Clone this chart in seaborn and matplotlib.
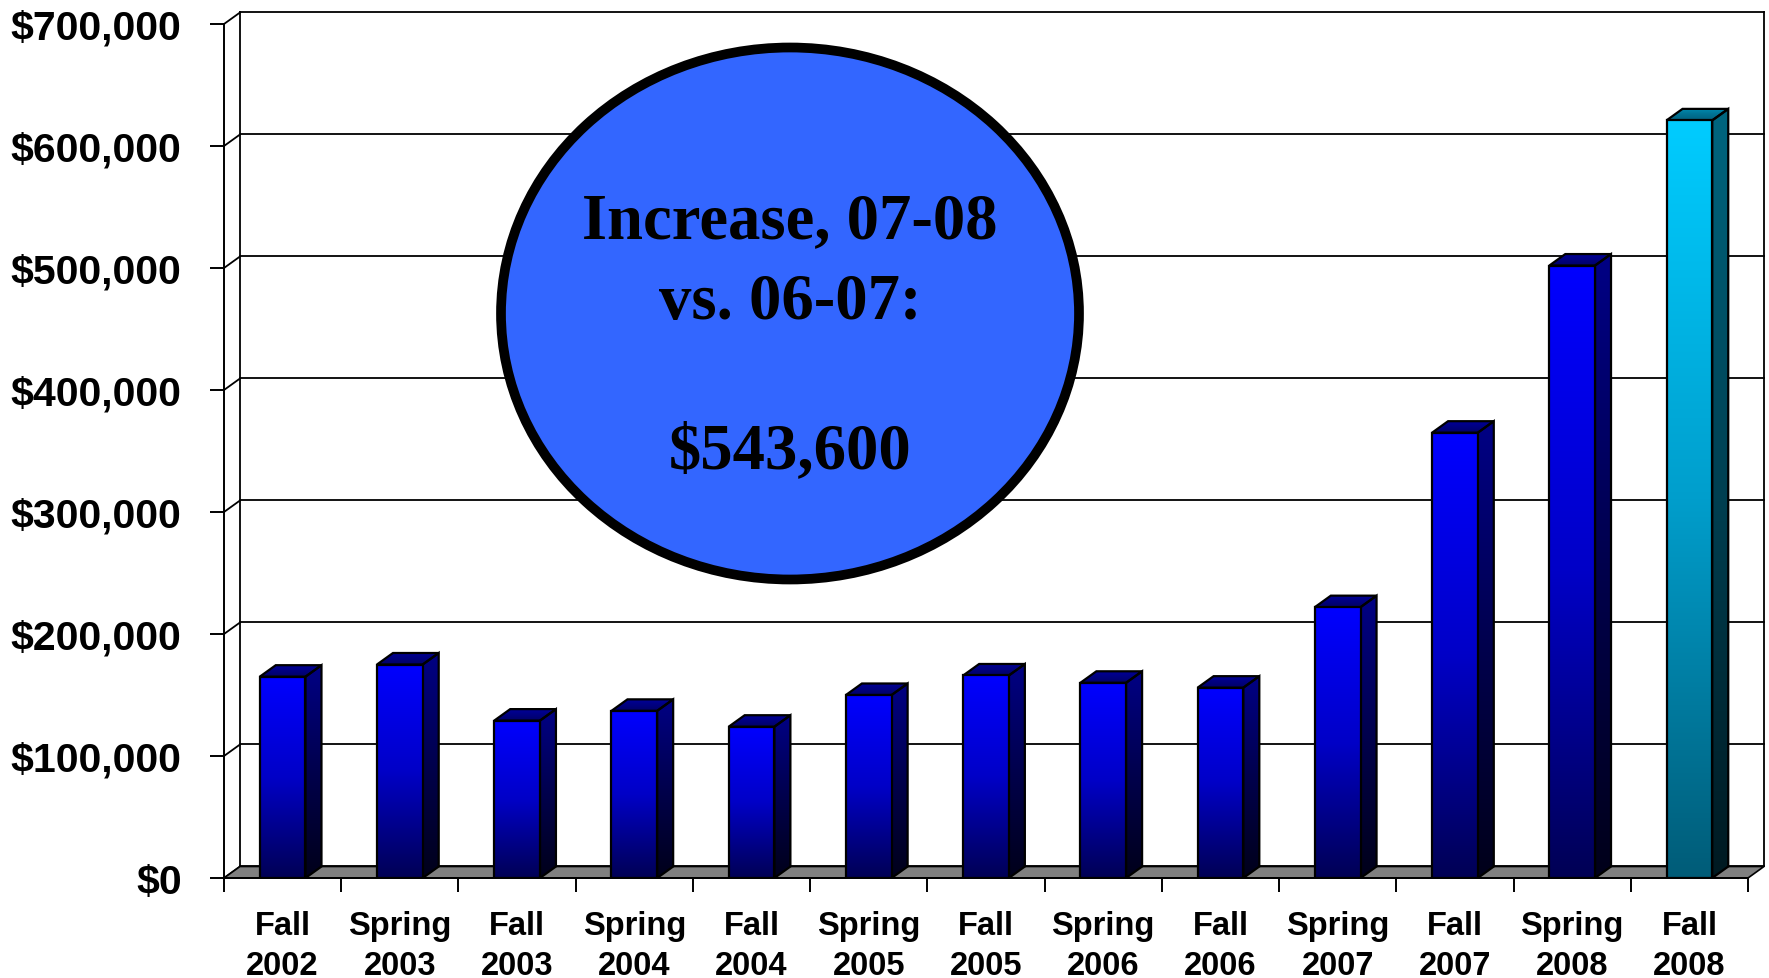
import numpy as np
import pandas as pd
import matplotlib
matplotlib.use("Agg")
import matplotlib.pyplot as plt
import seaborn as sns
from matplotlib.patches import Polygon, Ellipse
from matplotlib.ticker import FuncFormatter, MultipleLocator

# Data
terms = ["Fall", "Spring", "Fall", "Spring", "Fall", "Spring", "Fall",
         "Spring", "Fall", "Spring", "Fall", "Spring", "Fall"]
years = [2002, 2003, 2003, 2004, 2004, 2005, 2005,
         2006, 2006, 2007, 2007, 2008, 2008]
amounts = [165000, 175000, 129000, 137000, 124000, 150000, 166000,
           160000, 156000, 222000, 365000, 502000, 621000]
highlight = [False] * 12 + [True]

callout_lines = ["Increase, 07-08", "vs. 06-07:", "$543,600"]

# Style
DX, DY = 0.1365, 9430  # fake 3D depth in data units
BLUE = {
    "front": [(0.0, 0.0, 1.0), (0.0, 0.0, 0.78), (0.0, 0.0, 0.33)],
    "side": [(0.0, 0.0, 0.52), (0.0, 0.0, 0.30), (0.0, 0.0, 0.10)],
    "top": [(0.0, 0.0, 0.60), (0.0, 0.0, 0.50), (0.0, 0.0, 0.40)],
}
CYAN = {
    "front": [(0.0, 0.80, 1.0), (0.0, 0.62, 0.80), (0.0, 0.36, 0.47)],
    "side": [(0.0, 0.40, 0.50), (0.0, 0.25, 0.32), (0.0, 0.10, 0.13)],
    "top": [(0.0, 0.55, 0.70), (0.0, 0.45, 0.58), (0.0, 0.38, 0.50)],
}

df = pd.DataFrame({
    "label": [f"{t}\n{y}" for t, y in zip(terms, years)],
    "amount": amounts,
    "highlight": highlight,
})


def gradient_poly(ax, verts, stops, z):
    """Fill a polygon with a vertical gradient (top -> bottom)."""
    verts = np.asarray(verts, dtype=float)
    poly = Polygon(verts, closed=True, facecolor="none", edgecolor="black",
                   linewidth=1.6, zorder=z + 0.5)
    ax.add_patch(poly)
    n = 256
    t = np.linspace(0, 1, n)
    stops = np.asarray(stops)
    pos = np.linspace(0, 1, len(stops))
    img = np.stack([np.interp(t, pos, stops[:, c]) for c in range(3)], axis=-1)
    img = img[:, None, :]
    x0, x1 = verts[:, 0].min(), verts[:, 0].max()
    y0, y1 = verts[:, 1].min(), verts[:, 1].max()
    im = ax.imshow(img, extent=(x0, x1, y0, y1), origin="upper",
                   aspect="auto", interpolation="bilinear", zorder=z)
    im.set_clip_path(poly)


fig = plt.figure(figsize=(17.69, 9.79), dpi=100)
ax = fig.add_axes([224 / 1769, 100 / 979, 1524 / 1769, 854 / 979])

palette = {False: "#0000FF", True: "#00CCFF"}
sns.barplot(data=df, x="label", y="amount", hue="highlight", palette=palette,
            width=0.39, dodge=False, legend=False, ax=ax, zorder=3)

ymax = 700000
xl, xr = -0.5, len(df) - 0.5
ax.set_xlim(xl, xr)
ax.set_ylim(0, ymax)

# back wall gridlines and edges
for v in range(0, ymax + 1, 100000):
    ax.plot([xl + DX, xr + DX], [v + DY, v + DY], color="black", lw=1.3,
            zorder=1, clip_on=False)
    ax.plot([xl, xl + DX], [v, v + DY], color="black", lw=1.3,
            zorder=1, clip_on=False)
ax.plot([xl + DX, xl + DX], [DY, ymax + DY], color="black", lw=1.3,
        zorder=1, clip_on=False)
ax.plot([xr + DX, xr + DX], [DY, ymax + DY], color="black", lw=1.3,
        zorder=1, clip_on=False)

# floor
floor = Polygon([(xl, 0), (xr, 0), (xr + DX, DY), (xl + DX, DY)], closed=True,
                facecolor="#808080", edgecolor="black", lw=1.2, zorder=2,
                clip_on=False)
ax.add_patch(floor)

# turn seaborn's flat bars into 3D blocks
for i, p in enumerate(ax.patches[:len(df)]):
    x0 = p.get_x()
    w = p.get_width()
    h = p.get_height()
    x1 = x0 + w
    sty = CYAN if df["highlight"].iloc[i] else BLUE
    p.set_visible(False)
    gradient_poly(ax, [(x1, 0), (x1 + DX, DY), (x1 + DX, h + DY), (x1, h)],
                  sty["side"], 3)
    gradient_poly(ax, [(x0, h), (x1, h), (x1 + DX, h + DY), (x0 + DX, h + DY)],
                  sty["top"], 3)
    gradient_poly(ax, [(x0, 0), (x1, 0), (x1, h), (x0, h)], sty["front"], 4)

ax.set_xlim(xl, xr)
ax.set_ylim(0, ymax)

# axes styling
for s in ["top", "right"]:
    ax.spines[s].set_visible(False)
ax.spines["left"].set_linewidth(1.4)
ax.spines["bottom"].set_linewidth(1.4)
ax.spines["left"].set_zorder(6)
ax.spines["bottom"].set_zorder(6)

ax.yaxis.set_major_locator(MultipleLocator(100000))
ax.yaxis.set_major_formatter(FuncFormatter(lambda v, pos: f"${v:,.0f}"))
ax.tick_params(axis="y", direction="out", length=10, width=1.4, pad=20.5,
               labelsize=29.5)
for lab in ax.get_yticklabels():
    lab.set_fontweight("bold")
    lab.set_fontfamily("Liberation Sans")

ax.set_xticks(range(len(df)))
ax.set_xticklabels(df["label"], fontsize=23.5, fontweight="bold",
                   family="Liberation Sans", linespacing=1.36)
ax.set_xticks(np.arange(xl, xr + 0.01, 1.0), minor=True)
ax.tick_params(axis="x", which="major", length=0, pad=23)
ax.tick_params(axis="x", which="minor", direction="out", length=10, width=1.4)
ax.set_xlabel("")
ax.set_ylabel("")

# callout bubble
ell = Ellipse((790 / 1769, 1 - 314.5 / 979), 578 / 1769, 532 / 979,
              transform=fig.transFigure, facecolor="#3366FF",
              edgecolor="black", linewidth=7, zorder=10)
fig.patches.append(ell)
for txt, base in zip(callout_lines, [238.6, 319.0, 468.0]):
    fig.text(790 / 1769, 1 - base / 979, txt, ha="center", va="baseline",
             fontsize=46.5, fontweight="bold", family="Liberation Serif",
             color="black", zorder=11)

fig.savefig("out.png", dpi=100)
